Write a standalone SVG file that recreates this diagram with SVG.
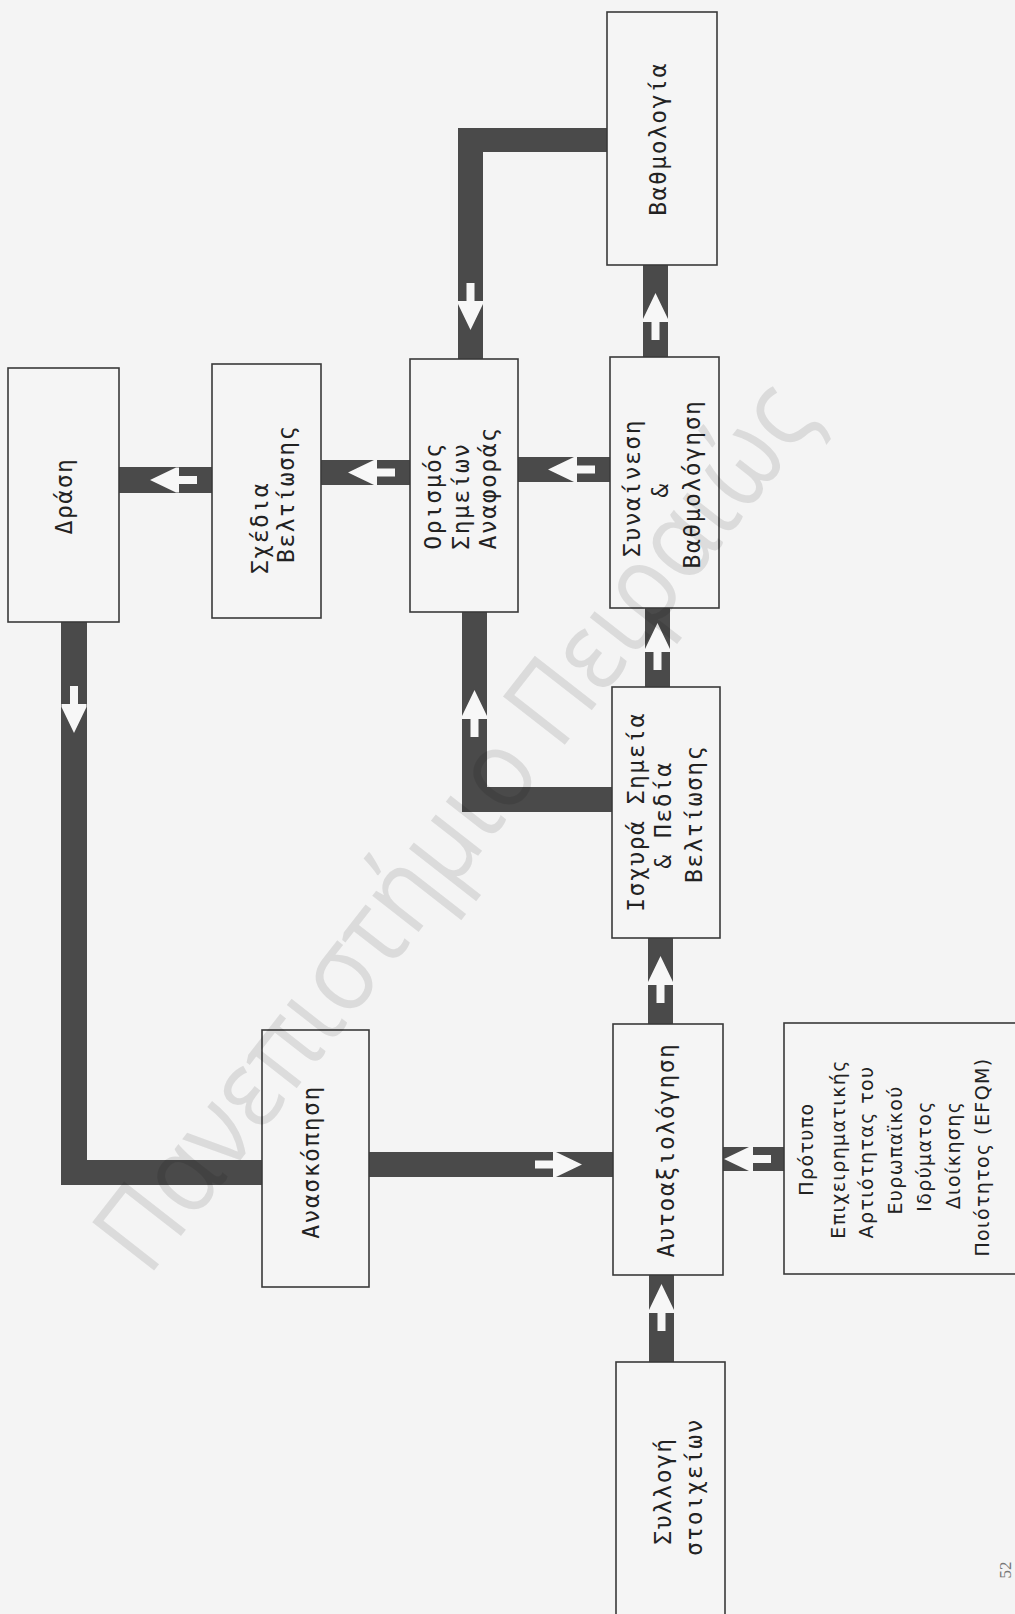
<svg xmlns="http://www.w3.org/2000/svg" xmlns:xlink="http://www.w3.org/1999/xlink" width="1015" height="1614" viewBox="0 0 1015 1614">
<style>
.box{fill:#f5f5f5;stroke:#3a3a3a;stroke-width:1.6}
.bar{fill:#4a4a4a}
.t{font-family:"DejaVu Sans Mono","Liberation Mono",monospace;font-size:23px;letter-spacing:1.5px;fill:#222;text-anchor:middle;dominant-baseline:central}
.p{font-family:"DejaVu Sans","Noto Sans",sans-serif;font-size:19px;letter-spacing:1.4px;fill:#222;text-anchor:middle;dominant-baseline:central}
.wm{font-family:"Open Sans","DejaVu Sans",sans-serif;font-weight:400;font-size:110px;fill:#000;fill-opacity:0.1;text-anchor:middle;dominant-baseline:central}
.pg{font-family:"Liberation Serif",serif;font-size:17px;fill:#777;text-anchor:middle;dominant-baseline:central}
</style>
<defs>
<path id="arr" d="M0,0 L-26,-12.5 L-29,-12.5 L-29,-4 L-47,-4 L-47,4 L-29,4 L-29,12.5 L-26,12.5 Z" fill="#f7f7f7"/>
</defs>
<rect x="0" y="0" width="1015" height="1614" fill="#f4f4f4"/>

<g id="connectors">
  <rect class="bar" x="458" y="128" width="149" height="24"/>
  <rect class="bar" x="458" y="128" width="25" height="231"/>
  <use xlink:href="#arr" href="#arr" transform="translate(470.5,330) rotate(90)"/>
  <rect class="bar" x="643" y="265" width="25" height="92"/>
  <use xlink:href="#arr" href="#arr" transform="translate(655.5,293) rotate(-90)"/>
  <rect class="bar" x="518" y="457" width="92" height="25"/>
  <use xlink:href="#arr" href="#arr" transform="translate(548,469.5) rotate(180)"/>
  <rect class="bar" x="321" y="460" width="89" height="25"/>
  <use xlink:href="#arr" href="#arr" transform="translate(348,472.5) rotate(180)"/>
  <rect class="bar" x="119" y="467" width="93" height="26"/>
  <use xlink:href="#arr" href="#arr" transform="translate(150,480) rotate(180)"/>
  <rect class="bar" x="61" y="622" width="26" height="563"/>
  <rect class="bar" x="61" y="1160" width="201" height="25"/>
  <use xlink:href="#arr" href="#arr" transform="translate(74,733) rotate(90)"/>
  <rect class="bar" x="369" y="1152" width="244" height="25"/>
  <use xlink:href="#arr" href="#arr" transform="translate(582,1164.5)"/>
  <rect class="bar" x="648" y="938" width="25" height="86"/>
  <use xlink:href="#arr" href="#arr" transform="translate(660.5,956) rotate(-90)"/>
  <rect class="bar" x="645" y="608" width="25" height="79"/>
  <use xlink:href="#arr" href="#arr" transform="translate(657.5,623) rotate(-90)"/>
  <rect class="bar" x="462" y="612" width="25" height="200"/>
  <rect class="bar" x="462" y="787" width="151" height="25"/>
  <use xlink:href="#arr" href="#arr" transform="translate(474.5,690) rotate(-90)"/>
  <rect class="bar" x="723" y="1147" width="61" height="24"/>
  <use xlink:href="#arr" href="#arr" transform="translate(724,1159) rotate(180)"/>
  <rect class="bar" x="649" y="1275" width="25" height="87"/>
  <use xlink:href="#arr" href="#arr" transform="translate(661.5,1284) rotate(-90)"/>
</g>

<g id="n_vathmologia">
  <rect class="box" x="607" y="12" width="110" height="253"/>
  <text class="t" transform="translate(658,139) rotate(-90)">Βαθμολογία</text>
</g>
<g id="n_synainesi">
  <rect class="box" x="610" y="357" width="109" height="251"/>
  <text class="t" transform="translate(632,488) rotate(-90)">Συναίνεση</text>
  <text class="t" transform="translate(660,490) rotate(-90)">&amp;</text>
  <text class="t" transform="translate(692,484) rotate(-90)">Βαθμολόγηση</text>
</g>
<g id="n_orismos">
  <rect class="box" x="410" y="359" width="108" height="253"/>
  <text class="t" transform="translate(433,496) rotate(-90)">Ορισμός</text>
  <text class="t" transform="translate(461,496) rotate(-90)">Σημείων</text>
  <text class="t" transform="translate(488,488) rotate(-90)">Αναφοράς</text>
</g>
<g id="n_schedia">
  <rect class="box" x="212" y="364" width="109" height="254"/>
  <text class="t" transform="translate(260,528) rotate(-90)">Σχέδια</text>
  <text class="t" transform="translate(286,494) rotate(-90)">Βελτίωσης</text>
</g>
<g id="n_drasi">
  <rect class="box" x="8" y="368" width="111" height="254"/>
  <text class="t" transform="translate(64,496) rotate(-90)">Δράση</text>
</g>
<g id="n_ischyra">
  <rect class="box" x="612" y="687" width="108" height="251"/>
  <text class="t" transform="translate(636,812) rotate(-90)">Ισχυρά Σημεία</text>
  <text class="t" transform="translate(663,815) rotate(-90)">&amp; Πεδία</text>
  <text class="t" transform="translate(694,814) rotate(-90)">Βελτίωσης</text>
</g>
<g id="n_aftoaxiologisi">
  <rect class="box" x="613" y="1024" width="110" height="251"/>
  <text class="t" transform="translate(666,1150) rotate(-90)">Αυτοαξιολόγηση</text>
</g>
<g id="n_anaskopisi">
  <rect class="box" x="262" y="1030" width="107" height="257"/>
  <text class="t" transform="translate(311,1162) rotate(-90)">Ανασκόπηση</text>
</g>
<g id="n_efqm">
  <rect class="box" x="784" y="1023" width="240" height="251"/>
  <text class="p" transform="translate(806,1149) rotate(-90)">Πρότυπο</text>
  <text class="p" transform="translate(838,1149) rotate(-90)">Επιχειρηματικής</text>
  <text class="p" transform="translate(866,1152) rotate(-90)">Αρτιότητας του</text>
  <text class="p" transform="translate(895,1150) rotate(-90)">Ευρωπαϊκού</text>
  <text class="p" transform="translate(924,1156) rotate(-90)">Ιδρύματος</text>
  <text class="p" transform="translate(953,1155) rotate(-90)">Διοίκησης</text>
  <text class="p" transform="translate(982,1157) rotate(-90)">Ποιότητος (EFQM)</text>
</g>
<g id="n_syllogi">
  <rect class="box" x="616" y="1362" width="109" height="260"/>
  <text class="t" transform="translate(663,1491) rotate(-90)">Συλλογή</text>
  <text class="t" transform="translate(694,1487) rotate(-90)">στοιχείων</text>
</g>

<text class="pg" transform="translate(1005,1570) rotate(-90)">52</text>
<text class="wm" transform="translate(450,822) rotate(-52)" textLength="1090" lengthAdjust="spacingAndGlyphs">Πανεπιστήμιο Πειραιώς</text>
</svg>
